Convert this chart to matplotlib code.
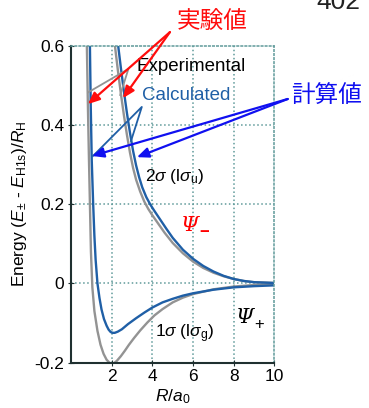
import matplotlib
matplotlib.use("Agg")
import matplotlib.pyplot as plt
from matplotlib.transforms import offset_copy

plt.rcParams['font.family'] = ['Liberation Sans', 'Noto Sans CJK JP', 'DejaVu Sans']
plt.rcParams['mathtext.fontset'] = 'custom'
plt.rcParams['mathtext.rm'] = 'Liberation Sans'
plt.rcParams['mathtext.it'] = 'Liberation Sans:italic'
plt.rcParams['mathtext.bf'] = 'Liberation Sans:bold'

# 1sigma (bonding), calculated
r_calc_plus = [0.93, 0.97, 1.02, 1.09, 1.15, 1.21, 1.3, 1.4, 1.5, 1.62, 1.75, 1.85, 1.95,
               2.05, 2.15, 2.3, 2.5, 2.8, 3.2, 3.6, 4.0, 4.5, 5.0, 5.5, 6.0, 7.0, 8.0, 9.0, 10.0]
e_calc_plus = [0.6, 0.45, 0.31, 0.2, 0.12, 0.06, 0.0, -0.037, -0.066, -0.09, -0.107, -0.117,
               -0.123, -0.125, -0.125, -0.122, -0.116, -0.103, -0.088, -0.074, -0.061, -0.048,
               -0.039, -0.031, -0.025, -0.016, -0.010, -0.007, -0.005]

# 1sigma (bonding), experimental
r_exp_plus = [0.78, 0.83, 0.88, 0.93, 0.98, 1.05, 1.15, 1.3, 1.45, 1.6, 1.75, 1.9, 2.0, 2.1,
              2.25, 2.45, 2.65, 2.85, 3.1, 3.4, 3.75, 4.1, 4.5, 5.0, 5.5, 6.0, 7.0, 8.0, 9.0, 10.0]
e_exp_plus = [0.6, 0.45, 0.32, 0.2, 0.08, -0.01, -0.07, -0.12, -0.155, -0.178, -0.193, -0.201,
              -0.203, -0.202, -0.196, -0.184, -0.17, -0.155, -0.138, -0.119, -0.099, -0.081,
              -0.065, -0.048, -0.036, -0.027, -0.015, -0.008, -0.004, -0.002]

# 2sigma (antibonding), calculated
r_calc_minus = [2.32, 2.45, 2.6, 2.75, 2.9, 3.05, 3.2, 3.35, 3.5, 3.7, 3.9, 4.1, 4.4, 4.7,
                5.0, 5.5, 6.0, 6.5, 7.0, 7.5, 8.0, 8.5, 9.0, 10.0]
e_calc_minus = [0.6, 0.545, 0.485, 0.43, 0.38, 0.335, 0.298, 0.268, 0.243, 0.218, 0.199, 0.183,
                0.16, 0.137, 0.115, 0.085, 0.062, 0.044, 0.030, 0.019, 0.011, 0.006, 0.003, 0.001]

# 2sigma (antibonding), experimental
r_exp_minus = [2.16, 2.3, 2.45, 2.6, 2.75, 2.9, 3.05, 3.2, 3.4, 3.6, 3.8, 4.0, 4.3, 4.6,
               5.0, 5.5, 6.0, 6.5, 7.0, 7.5, 8.0, 8.5, 9.0, 10.0]
e_exp_minus = [0.6, 0.54, 0.48, 0.425, 0.375, 0.33, 0.292, 0.262, 0.232, 0.207, 0.188, 0.172,
               0.15, 0.128, 0.102, 0.076, 0.055, 0.039, 0.027, 0.018, 0.011, 0.006, 0.003, 0.001]

x_ticks = [2, 4, 6, 8, 10]
y_ticks = [-0.2, 0, 0.2, 0.4, 0.6]
y_ticklabels = ['-0.2', '0', '0.2', '0.4', '0.6']

blue = '#1f5fa6'
gray = '#939393'
grid_c = '#5f9a9a'

fig = plt.figure(figsize=(3.69, 4.08), dpi=100)
ax = fig.add_axes([0.1924, 0.1115, 0.5515, 0.7758])

ax.plot(r_exp_plus, e_exp_plus, color=gray, lw=1.7)
ax.plot(r_exp_minus, e_exp_minus, color=gray, lw=1.7)
ax.plot(r_calc_plus, e_calc_plus, color=blue, lw=1.7)
ax.plot(r_calc_minus, e_calc_minus, color=blue, lw=1.7)

ax.set_xlim(0, 10)
ax.set_ylim(-0.2, 0.6)
ax.set_xticks(x_ticks)
ax.set_yticks(y_ticks)
ax.set_yticklabels(y_ticklabels)
ax.tick_params(labelsize=12.5, direction='inout', length=4, color='#1f3030', pad=3)

for v in [2, 4, 6, 8]:
    ax.axvline(v, color=grid_c, ls=':', lw=1.1, zorder=0)
for v in [0, 0.2, 0.4]:
    ax.axhline(v, color=grid_c, ls=':', lw=1.1, zorder=0)

for s in ['top', 'right']:
    ax.spines[s].set_color(grid_c)
    ax.spines[s].set_linestyle(':')
    ax.spines[s].set_linewidth(1.1)
for s in ['left', 'bottom']:
    ax.spines[s].set_color('#1f3030')
    ax.spines[s].set_linewidth(1.5)

ax.set_xlabel(r'$R/a_0$', fontsize=12.5, labelpad=2)
ax.set_ylabel(r'Energy ($E_{\pm}$ - $E_{\mathrm{H1s}}$)/$R_{\mathrm{H}}$', fontsize=12.5, labelpad=4)

# legend-like labels with leader lines
ax.text(3.24, 0.547, 'Experimental', fontsize=13.5, va='center', ha='left', color='black')
ax.text(3.5, 0.476, 'Calculated', fontsize=13.5, va='center', ha='left', color=blue)
ax.plot([0.85, 2.82, 2.42], [0.483, 0.542, 0.476], color=gray, lw=1.3, clip_on=False)
ax.plot([1.08, 3.48, 2.95], [0.322, 0.446, 0.36], color=blue, lw=1.3, clip_on=False)

ax.text(5.1, 0.27, r'2$\sigma$ (l$\sigma_{\mathrm{u}}$)', fontsize=12.5, ha='center', va='center')
ax.text(5.6, -0.127, r'1$\sigma$ (l$\sigma_{\mathrm{g}}$)', fontsize=12.5, ha='center', va='center')

# Psi labels: italic serif with a subscript sign
for (x0, y0, sign, col) in [(5.85, 0.147, '\u2212', 'red'), (8.55, -0.087, '+', 'black')]:
    ax.text(x0, y0, '\u03a8', fontsize=15, ha='center', va='center', color=col,
            family='DejaVu Serif', style='italic')
    ax.text(x0, y0, sign, fontsize=12, ha='left', va='center', color=col,
            fontweight='bold' if sign != '+' else 'normal',
            transform=offset_copy(ax.transData, fig=fig, x=6.5, y=-5, units='points'))

# red arrows (experimental)
for tip in [(0.83, 0.453), (2.55, 0.468)]:
    ax.annotate('', xy=tip, xytext=(4.86, 0.635), annotation_clip=False,
                arrowprops=dict(arrowstyle='-|>,head_length=0.7,head_width=0.3',
                                color='#ff0d0d', lw=1.6, shrinkA=0, shrinkB=0))
# blue arrows (calculated)
for tip in [(1.03, 0.322), (3.24, 0.319)]:
    ax.annotate('', xy=tip, xytext=(10.65, 0.466), annotation_clip=False,
                arrowprops=dict(arrowstyle='-|>,head_length=0.7,head_width=0.3',
                                color='#1010f0', lw=1.6, shrinkA=0, shrinkB=0))

fig.text(212 / 369, 1 - 22 / 408, '実験値', fontsize=17, color='#ff0d0d', ha='center',
         va='center', family=['Noto Sans CJK JP', 'DejaVu Sans'])
fig.text(327 / 369, 1 - 96 / 408, '計算値', fontsize=17, color='#1010f0', ha='center',
         va='center', family=['Noto Sans CJK JP', 'DejaVu Sans'])
fig.text(338 / 369, 1 - 9 / 408, '402', fontsize=19, color='#222222', ha='center',
         va='baseline')

fig.savefig('out.png', dpi=100)
